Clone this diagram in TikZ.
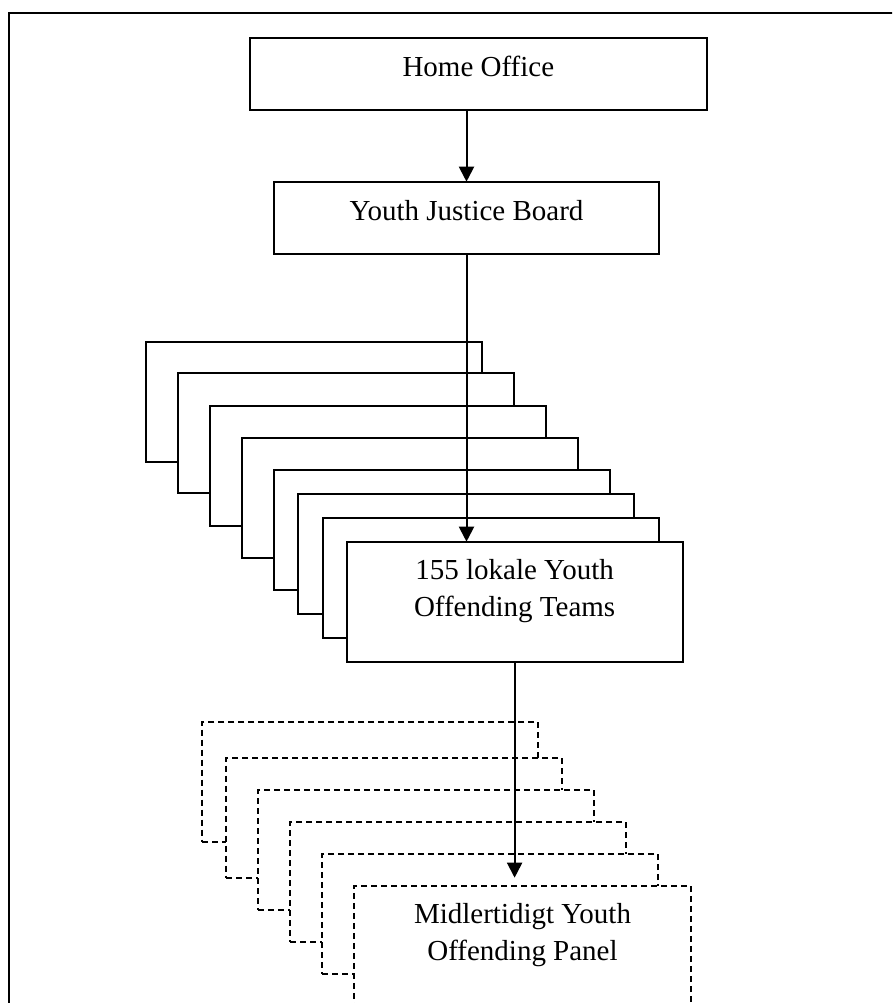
\documentclass[tikz,border=0pt]{standalone}
\usepackage{fontspec}
\setmainfont{Liberation Serif}
\usetikzlibrary{arrows.meta}
\tikzset{
  orgbox/.style={draw, line width=2pt, fill=white, inner sep=0pt, outer sep=0pt,
    anchor=north west, font=\fontsize{29}{36.7}\selectfont},
  backbox/.style={orgbox, minimum width=336pt, minimum height=120pt},
  panelbox/.style={backbox, dash pattern=on 6pt off 4pt},
  link/.style={line width=2pt, -{Triangle[width=15pt,length=15pt]}},
  frameline/.style={line width=2pt}
}
\begin{document}
\begin{tikzpicture}[x=1pt,y=-1pt]
\useasboundingbox (0,0) rectangle (892,1003);
\clip (0,0) rectangle (892,1003);
\fill[white] (0,0) rectangle (892,1003);
\draw[frameline] (9,1010) -- (9,12.7) -- (900,12.7);

% top boxes
\node[orgbox, text height=39pt, text depth=33pt] (ho) at (250,37.7)
  {\parbox[t]{456.7pt}{\centering Home Office}};
\node[orgbox, text height=38.3pt, text depth=34pt] (yjb) at (274,181.7)
  {\parbox[t]{385pt}{\centering Youth Justice Board}};

% stacked Youth Offending Teams
\node[backbox] (t1) at (146.2,341.7) {};
\node[backbox] (t2) at (178.2,373.3) {};
\node[backbox] (t3) at (210.2,405.7) {};
\node[backbox] (t4) at (242.3,437.7) {};
\node[backbox] (t5) at (274.3,469.7) {};
\node[backbox] (t6) at (298.4,493.7) {};
\node[backbox] (t7) at (322.5,518) {};
\node[orgbox, text height=38pt, text depth=82pt] (yot) at (346.6,541.7)
  {\parbox[t]{336pt}{\centering 155 lokale Youth\\Offending Teams}};

% stacked panels
\node[panelbox] (p1) at (202.3,721.7) {};
\node[panelbox] (p2) at (226,757.7) {};
\node[panelbox] (p3) at (258,790) {};
\node[panelbox] (p4) at (290,822) {};
\node[panelbox] (p5) at (322.3,854) {};
\node[orgbox, dash pattern=on 6pt off 4pt, text height=37.6pt, text depth=82.4pt] (ymp) at (354.3,885.7)
  {\parbox[t]{336.4pt}{\centering Midlertidigt Youth\\Offending Panel}};

% connectors
\draw[link] (yjb.north |- ho.south) -- (yjb.north);
\draw[link] (yjb.south) -- (yjb.south |- yot.north);
\draw[link, shorten >=8pt] (yot.south) -- (yot.south |- ymp.north);
\end{tikzpicture}
\end{document}
